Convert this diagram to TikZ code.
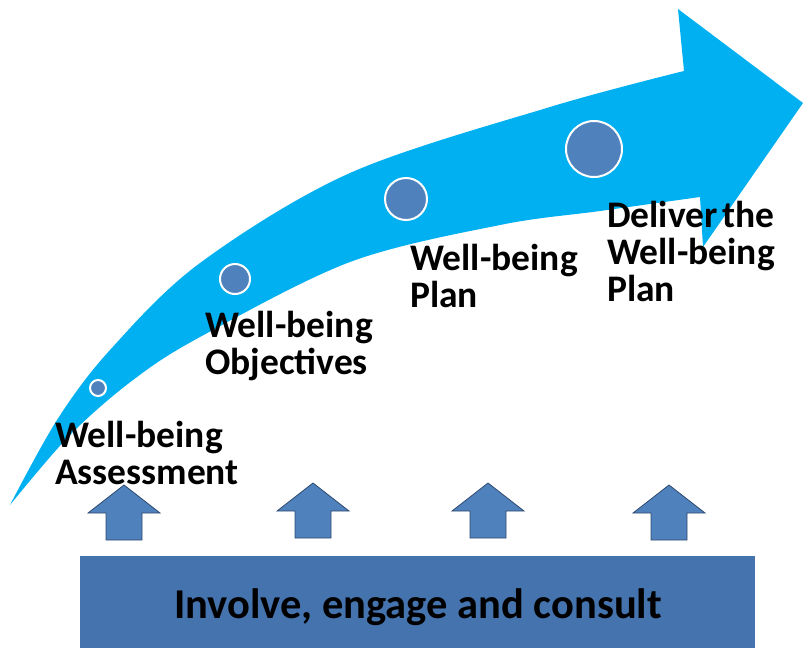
\documentclass[tikz,border=0pt]{standalone}
\usepackage{fontspec}
\setmainfont{Carlito}
\definecolor{bigblue}{HTML}{00B0F0}
\definecolor{dotblue}{HTML}{4F81BD}
\definecolor{barblue}{HTML}{4473AE}
\definecolor{edgeblue}{HTML}{2E4A6E}
\newcommand{\lblfont}{\fontsize{37.5}{37.5}\selectfont\bfseries}
\newcommand{\barfont}{\fontsize{42.5}{42.5}\selectfont\bfseries}
\newcommand{\stk}[1]{\vtop{\baselineskip=37pt \halign{##\hfil\cr#1\crcr}}}
\begin{document}
\begin{tikzpicture}[x=1pt,y=-1pt,
  dot/.style={circle, fill=dotblue, draw=white, line width=2pt, inner sep=0pt, minimum size=#1},
  lbl/.style={anchor=base west, inner sep=0pt, font=\lblfont},
  uparrow/.style={fill=dotblue, draw=edgeblue, line width=0.8pt, line join=miter}]
\useasboundingbox (0,0) rectangle (803,648);
% big curved arrow
\fill[bigblue] plot[smooth, tension=0.55] coordinates {(10,505) (57,420) (110,350) (200,263) (350,173) (550,107) (684,71)}
  -- (678,9) -- (803,103) -- (703,247)
  -- plot[smooth, tension=0.55] coordinates {(700,197) (600,211) (500,225) (350,262) (200,337) (133,380) (70,435) (10,505)} -- cycle;
% milestones
\node[dot=16pt] (m1) at (98,388) {};
\node[dot=30pt] (m2) at (235,279) {};
\node[dot=42pt] (m3) at (406,199) {};
\node[dot=56pt] (m4) at (594,149) {};
% labels
\node[lbl] (t1) at (55,447) {\stk{Well-being\cr Assessment}};
\node[lbl] (t2) at (205,337) {\stk{Well-being\cr Objectives}};
\node[lbl] (t3) at (410,270) {\stk{Well-being\cr Plan}};
\node[lbl] (t4) at (607,227) {\stk{Deliver\hspace{0.12em}the\cr Well-being\cr Plan}};
% up arrows
\foreach \cx/\ty [count=\i] in {124/485, 313/483, 488/483, 669/485} {
  \draw[uparrow] (\cx,\ty) -- (\cx+36,\ty+28) -- (\cx+18,\ty+28) -- (\cx+18,\ty+55)
    -- (\cx-18,\ty+55) -- (\cx-18,\ty+28) -- (\cx-36,\ty+28) -- cycle;
}
% base bar
\node[rectangle, fill=barblue, inner sep=0pt, minimum width=675pt, minimum height=92pt, anchor=north west] (bar) at (80,556) {};
\node[anchor=base, inner sep=0pt, font=\barfont] (bartext) at (418,618) {Involve, engage and consult};
\end{tikzpicture}
\end{document}
